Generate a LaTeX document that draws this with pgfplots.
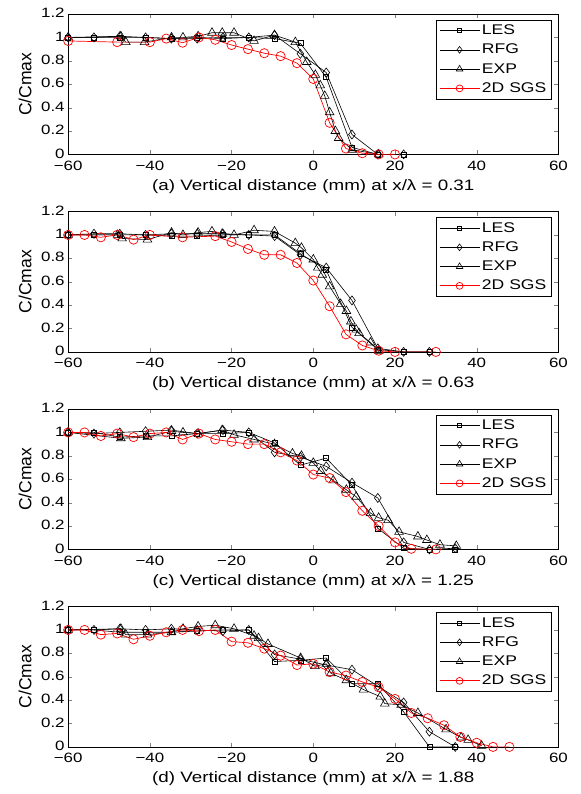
\documentclass[border=0pt]{standalone}
\usepackage{fontspec}
\setmainfont{Liberation Sans}[FakeStretch=1.25]
\newfontfamily\ylfont{Liberation Sans}
\usepackage{pgfplots}
\pgfplotsset{compat=1.18}
\usepgfplotslibrary{groupplots}
\usetikzlibrary{calc}

\pgfplotsset{
  conc/.style={
    scale only axis, width=489pt, height=140pt,
    xmin=-60, xmax=60, ymin=0, ymax=1.2,
    xtick={-60,-40,-20,0,20,40,60},
    xticklabels={−60,−40,−20,0,20,40,60},
    ytick={0,0.2,0.4,0.6,0.8,1,1.2},
    yticklabels={0,0.2,0.4,0.6,0.8,1,1.2},
    tick align=inside, major tick length=4pt,
    ylabel={C/Cmax},
    every axis y label/.style={at={(axis description cs:0,0.5)}, xshift=-43pt,
      rotate=90, anchor=center, font=\ylfont\fontsize{17.5}{19}\selectfont},
    xticklabel style={font=\fontsize{13.5}{15}\selectfont, yshift=-3pt},
    yticklabel style={font=\fontsize{13.5}{15}\selectfont, yshift=1pt},
    xlabel style={font=\fontsize{15}{17}\selectfont, yshift=-2pt},
    legend style={at={(0.986,0.96)}, anchor=north east,
      font=\fontsize{14}{16}\selectfont, draw=black, row sep=4pt,
      inner xsep=3pt, inner ysep=3pt, cells={anchor=west}},
    legend cell align=left,
    legend image code/.code={
      \draw[mark repeat=2, mark phase=2, #1, every mark/.append style={scale=0.75}]
        plot coordinates {(0pt,0pt) (20pt,0pt) (40pt,0pt)};},
  },
  les/.style={black, line width=0.6pt, mark=square, mark size=2.5pt},
  rfg/.style={black, line width=0.6pt, mark=diamond, mark size=4.5pt},
  exp/.style={black, line width=0.6pt, mark=triangle, mark size=5pt},
  sgs/.style={red, line width=0.7pt, mark=o, mark size=4.6pt},
}

\begin{document}
\begin{tikzpicture}
\begin{groupplot}[group style={group size=1 by 4, vertical sep=57pt}, conc]

% (a)
\nextgroupplot[xlabel={(a) Vertical distance (mm) at x/λ = 0.31}]
\addplot[les] coordinates {(-60,1.0)(-53.68,1.0)(-47.37,1.0)(-41.05,1.0)(-34.74,0.99)(-28.42,1.0)(-22.11,0.99)(-15.79,1.0)(-9.47,0.99)(-3.16,0.95)(3.16,0.66)(9.47,0.06)(15.79,0.0)(22.11,0.0)};
\addplot[rfg] coordinates {(-60,1.0)(-53.68,1.0)(-47.37,1.01)(-41.05,1.0)(-34.74,0.99)(-28.42,0.99)(-22.11,1.0)(-15.79,1.0)(-9.47,1.02)(-3.16,0.86)(3.16,0.70)(9.47,0.17)(15.79,0.0)(22.11,0.0)};
\addplot[exp] coordinates {(-60,1.0)(-47.1,1.01)(-45.9,0.96)(-41.3,0.96)(-34.7,1.0)(-31.9,1.0)(-28.2,1.01)(-24.8,1.04)(-22.3,1.04)(-19.4,1.04)(-14.5,0.97)(-9.5,1.02)(-4.4,0.96)(-1.6,0.79)(0.5,0.68)(1.7,0.59)(2.8,0.50)(4.0,0.36)(5.4,0.20)(6.2,0.14)(9.5,0.04)(16,0.0)};
\addplot[sgs] coordinates {(-60,0.97)(-48,0.96)(-40,0.96)(-36,0.99)(-32,0.955)(-28,1.0)(-24,0.98)(-20,0.935)(-16,0.90)(-12,0.865)(-8,0.84)(-4,0.78)(0,0.645)(4,0.27)(8,0.05)(12,0.01)(16,0.0)(20,0.0)};
\legend{LES,RFG,EXP,2D SGS}

% (b)
\nextgroupplot[xlabel={(b) Vertical distance (mm) at x/λ = 0.63}]
\addplot[les] coordinates {(-60,1.0)(-53.68,1.0)(-47.37,1.0)(-41.05,1.0)(-34.74,0.99)(-28.42,0.99)(-22.11,1.0)(-15.79,1.0)(-9.47,1.0)(-3.16,0.84)(3.16,0.70)(9.47,0.21)(15.79,0.02)(22.11,0.0)(28.42,0.0)};
\addplot[rfg] coordinates {(-60,1.0)(-53.68,1.01)(-47.37,1.01)(-41.05,1.0)(-34.74,1.01)(-28.42,1.01)(-22.11,1.01)(-15.79,1.0)(-9.47,0.99)(-3.16,0.83)(3.16,0.72)(9.47,0.44)(15.79,0.03)(22.11,0.0)(28.42,0.0)};
\addplot[exp] coordinates {(-60,1.0)(-47.9,1.0)(-46.8,0.97)(-40.6,0.96)(-34.7,1.02)(-31.9,1.0)(-28.2,1.02)(-24.8,1.03)(-22.3,1.01)(-19.4,1.0)(-14.5,1.04)(-9.5,1.03)(-4.4,0.93)(-2.9,0.89)(0,0.79)(1.1,0.72)(2.2,0.66)(4,0.56)(6.7,0.41)(8.1,0.35)(9.2,0.26)(10.5,0.19)(11.2,0.16)(14,0.08)(16,0.01)};
\addplot[sgs] coordinates {(-60,1.0)(-56,1.0)(-52,0.98)(-48,1.0)(-44,0.96)(-40,1.0)(-32,0.98)(-24,0.99)(-20,0.94)(-16,0.88)(-12,0.83)(-8,0.83)(-4,0.76)(0,0.61)(4,0.39)(8,0.15)(12,0.055)(16,0.01)(20,0.0)(30,0.0)};
\legend{LES,RFG,EXP,2D SGS}

% (c)
\nextgroupplot[xlabel={(c) Vertical distance (mm) at x/λ = 1.25}]
\addplot[les] coordinates {(-60,1.0)(-53.68,1.0)(-47.37,0.96)(-41.05,0.97)(-34.74,0.97)(-28.42,0.99)(-22.11,0.99)(-15.79,1.0)(-9.47,0.91)(-3.16,0.72)(3.16,0.78)(9.47,0.55)(15.79,0.18)(22.11,0.01)(28.42,0.0)(34.74,0.0)};
\addplot[rfg] coordinates {(-60,1.0)(-53.68,0.99)(-47.37,1.0)(-41.05,1.01)(-34.74,1.02)(-28.42,0.99)(-22.11,1.02)(-15.79,1.0)(-9.47,0.83)(-3.16,0.79)(3.16,0.71)(9.47,0.57)(15.79,0.44)(22.11,0.06)(28.42,0.0)(34.74,0.01)};
\addplot[exp] coordinates {(-60,1.0)(-47.1,0.95)(-40.6,0.96)(-34.7,1.01)(-31.9,1.0)(-28.2,0.99)(-22.3,1.02)(-19.4,0.98)(-14.5,0.94)(-9.5,0.90)(-5.1,0.82)(-2.9,0.80)(0,0.74)(1.8,0.67)(4.9,0.59)(8.1,0.51)(10.5,0.45)(14,0.31)(16,0.27)(18.3,0.25)(21,0.15)(25.6,0.11)(27.8,0.08)(31,0.04)(35,0.03)};
\addplot[sgs] coordinates {(-60,1.0)(-56,1.0)(-52,0.97)(-48,0.99)(-44,0.96)(-40,0.99)(-36,1.0)(-32,0.94)(-28,0.99)(-24,0.94)(-20,0.92)(-16,0.90)(-12,0.90)(-8,0.83)(-4,0.76)(0,0.64)(4,0.61)(8,0.49)(12,0.33)(16,0.20)(20,0.06)(24,0.005)(30,0.0)};
\legend{LES,RFG,EXP,2D SGS}

% (d)
\nextgroupplot[xlabel={(d) Vertical distance (mm) at x/λ = 1.88}]
\addplot[les] coordinates {(-60,1.0)(-53.68,1.0)(-47.37,0.98)(-41.05,0.98)(-34.74,0.98)(-28.42,0.99)(-22.11,1.0)(-15.79,1.0)(-9.47,0.73)(-3.16,0.74)(3.16,0.76)(9.47,0.54)(15.79,0.54)(22.11,0.30)(28.42,0.0)(34.74,0.0)};
\addplot[rfg] coordinates {(-60,1.0)(-53.68,1.0)(-47.37,1.01)(-41.05,1.0)(-34.74,1.01)(-28.42,1.0)(-22.11,0.99)(-15.79,1.0)(-9.47,0.79)(-3.16,0.75)(3.16,0.70)(9.47,0.66)(15.79,0.52)(22.11,0.38)(28.42,0.13)(34.74,0.0)};
\addplot[exp] coordinates {(-60,1.0)(-47.1,1.01)(-45.9,0.96)(-40.6,0.96)(-34.7,0.98)(-31.9,1.01)(-28.2,1.03)(-24,1.04)(-19.4,1.01)(-14.5,0.95)(-13.4,0.93)(-11.1,0.88)(-3.1,0.76)(0.4,0.69)(3.2,0.71)(4.3,0.63)(8.1,0.57)(12.3,0.49)(16.4,0.43)(17.5,0.37)(21.5,0.36)(25.6,0.29)(32.5,0.15)(36.2,0.08)(37.9,0.06)(41.2,0.01)};
\addplot[sgs] coordinates {(-60,1.0)(-56,1.0)(-52,0.96)(-48,0.97)(-44,0.92)(-40,0.95)(-36,0.98)(-32,1.0)(-28,0.99)(-24,1.0)(-20,0.90)(-16,0.89)(-12,0.84)(-8,0.78)(-4,0.70)(0,0.71)(4,0.64)(8,0.61)(12,0.555)(16,0.51)(20,0.41)(24,0.29)(28,0.245)(32,0.185)(36,0.085)(40,0.035)(44,0.0)(48,0.0)};
\legend{LES,RFG,EXP,2D SGS}
\end{groupplot}
\pgfresetboundingbox
\path ($(group c1r1.north west)+(-68pt,14pt)$) rectangle ($(group c1r4.south west)+(511pt,-47pt)$);
\end{tikzpicture}
\end{document}
